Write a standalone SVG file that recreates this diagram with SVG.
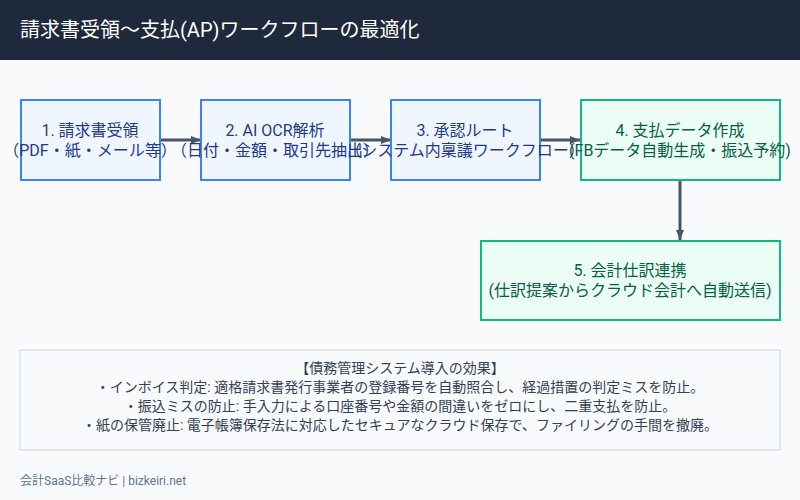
<svg xmlns="http://www.w3.org/2000/svg" width="800" height="500" viewBox="0 0 800 500">
<defs>
<marker id="ah" markerWidth="10" markerHeight="8" refX="10" refY="4" orient="auto" markerUnits="userSpaceOnUse"><path d="M0,0 L10,4 L0,8 Z" fill="#475569"/></marker>
<style>
text{font-family:Roboto,"Noto Sans CJK JP",sans-serif;}
.b rect{fill:#eff6ff;stroke:#3b82f6;stroke-width:2}
.b text{fill:#1e3a8a;font-size:16px;text-anchor:middle}
.g rect{fill:#ecfdf5;stroke:#10b981;stroke-width:2}
.g text{fill:#065f46;font-size:16px;text-anchor:middle}
.c line{stroke:#475569;stroke-width:3;marker-end:url(#ah)}
.n{fill:#334155;font-size:14px;text-anchor:middle}
</style>
</defs>
<rect width="800" height="500" fill="#f8fafc"/>
<rect width="800" height="60" fill="#1e293b"/>
<text x="20" y="37" fill="#ffffff" font-size="20">請求書受領〜支払(AP)ワークフローの最適化</text>
<g class="c" id="connectors">
<line x1="160" y1="140" x2="201" y2="140"/>
<line x1="350" y1="140" x2="391" y2="140"/>
<line x1="540" y1="140" x2="580" y2="140"/>
<line x1="680" y1="180" x2="680" y2="240"/>
</g>
<g id="n1" class="b"><rect x="21" y="100" width="139" height="80"/><text x="90" y="136">1. 請求書受領</text><text x="90" y="156">（PDF・紙・メール等）</text></g>
<g id="n2" class="b"><rect x="201" y="100" width="149" height="80"/><text x="275" y="136">2. AI OCR解析</text><text x="275" y="156">（日付・金額・取引先抽出）</text></g>
<g id="n3" class="b"><rect x="391" y="100" width="149" height="80"/><text x="465" y="136">3. 承認ルート</text><text x="465" y="156">（システム内稟議ワークフロー）</text></g>
<g id="n4" class="g"><rect x="581" y="100" width="199" height="80"/><text x="680" y="136">4. 支払データ作成</text><text x="680" y="156">(FBデータ自動生成・振込予約)</text></g>
<g id="n5" class="g"><rect x="481" y="241" width="299" height="79"/><text x="630" y="276">5. 会計仕訳連携</text><text x="630" y="296">(仕訳提案からクラウド会計へ自動送信)</text></g>
<g id="effects">
<rect x="20" y="350" width="760" height="100" fill="#f8fafc" stroke="#cbd5e1" stroke-width="1"/>
<text class="n" x="400" y="373">【債務管理システム導入の効果】</text>
<text class="n" x="400" y="392">・インボイス判定: 適格請求書発行事業者の登録番号を自動照合し、経過措置の判定ミスを防止。</text>
<text class="n" x="400" y="411">・振込ミスの防止: 手入力による口座番号や金額の間違いをゼロにし、二重支払を防止。</text>
<text class="n" x="400" y="430">・紙の保管廃止: 電子帳簿保存法に対応したセキュアなクラウド保存で、ファイリングの手間を撤廃。</text>
</g>
<text x="20" y="485" fill="#64748b" font-size="12">会計SaaS比較ナビ | bizkeiri.net</text>
</svg>
